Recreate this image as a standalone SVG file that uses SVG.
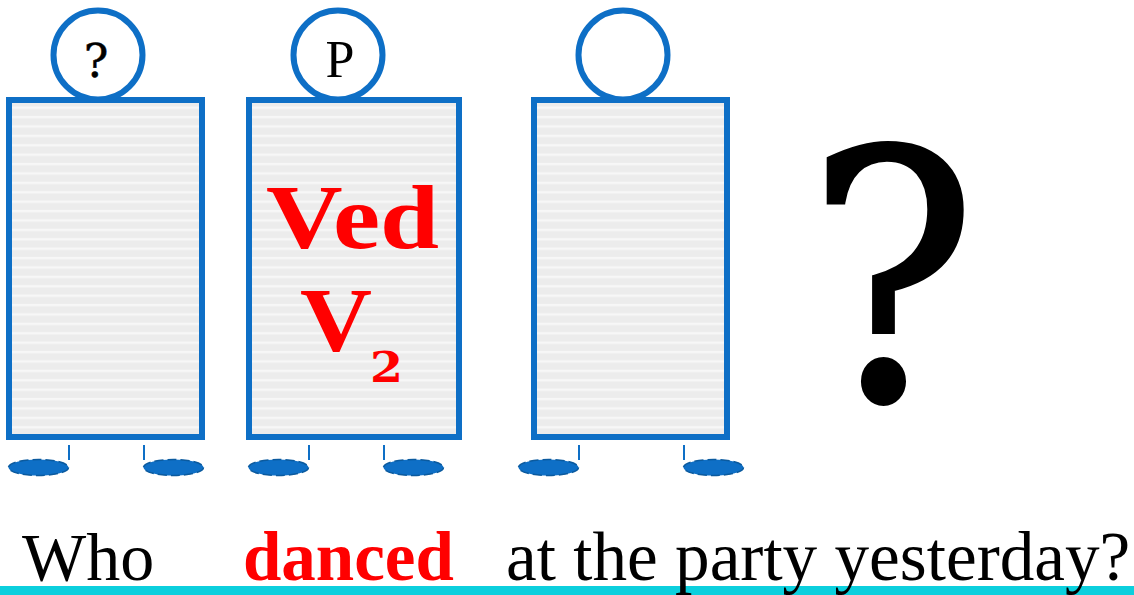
<svg xmlns="http://www.w3.org/2000/svg" width="1134" height="595" viewBox="0 0 1134 595">
<style>
.box{fill:url(#stripes);stroke:#0e6fc6;stroke-width:6}
.head{fill:#fff;stroke:#0e6fc6;stroke-width:6}
.foot{fill:#0e6fc6;stroke:#0b5a9e;stroke-width:1.5;stroke-dasharray:9 4}
.tick{stroke:#0e6fc6;stroke-width:2;fill:none}
.s{font-family:"Liberation Serif",serif;fill:#000}
.d{font-family:"DejaVu Serif",serif;fill:#000;stroke:#000}
.r{font-family:"Liberation Serif",serif;font-weight:700;fill:#f00}
.rd{font-family:"DejaVu Serif",serif;font-weight:700;fill:#f00}
</style>
<defs>
<pattern id="stripes" patternUnits="userSpaceOnUse" width="10" height="9.4" y="100">
<rect width="10" height="9.4" fill="#ececec"/>
<rect y="6.5" width="10" height="2.4" fill="#f7f7f7"/>
</pattern>
</defs>
<g id="node-1">
<rect class="box" x="9" y="100" width="193" height="337"/>
<circle class="head" cx="98" cy="55" r="44.5"/>
<text class="d" x="96" y="77" font-size="46" text-anchor="middle" stroke-width="0.5">?</text>
<ellipse class="foot" cx="38.5" cy="467.5" rx="30" ry="8"/>
<ellipse class="foot" cx="173.5" cy="467.5" rx="30" ry="8"/>
</g>
<g id="node-2">
<rect class="box" x="249" y="100" width="210" height="337"/>
<circle class="head" cx="338" cy="55" r="44.5"/>
<text class="s" x="340" y="77" font-size="52" text-anchor="middle">P</text>
<text class="r" x="266" y="248" font-size="92" textLength="173" lengthAdjust="spacingAndGlyphs">Ved</text>
<text class="r" x="300" y="351" font-size="92" textLength="72" lengthAdjust="spacingAndGlyphs">V</text>
<text class="rd" x="370" y="382" font-size="42" textLength="33" lengthAdjust="spacingAndGlyphs">2</text>
<ellipse class="foot" cx="278.5" cy="467.5" rx="30" ry="8"/>
<ellipse class="foot" cx="413.5" cy="467.5" rx="30" ry="8"/>
</g>
<g id="node-3">
<rect class="box" x="534" y="100" width="193" height="337"/>
<circle class="head" cx="623" cy="55" r="44.5"/>
<ellipse class="foot" cx="548.5" cy="467.5" rx="30" ry="8"/>
<ellipse class="foot" cx="713.5" cy="467.5" rx="30" ry="8"/>
</g>
<g id="connectors">
<path class="tick" d="M69 445V460M144 445V460M309 445V460M384 445V460M579 445V460M684 445V460"/>
</g>
<g id="labels">
<rect id="baseline" x="0" y="586" width="1134" height="9" fill="#0ccfdd"/>
<text class="d" transform="translate(807 399) scale(.92 1)" font-size="345" stroke-width="4">?</text>
<text class="s" x="22" y="580" font-size="68">Who</text>
<text class="s" x="243" y="580" font-size="69" font-weight="700" style="fill:#f00">danced</text>
<text class="s" x="506" y="580" font-size="69.2">at the party yesterday?</text>
</g>
</svg>
